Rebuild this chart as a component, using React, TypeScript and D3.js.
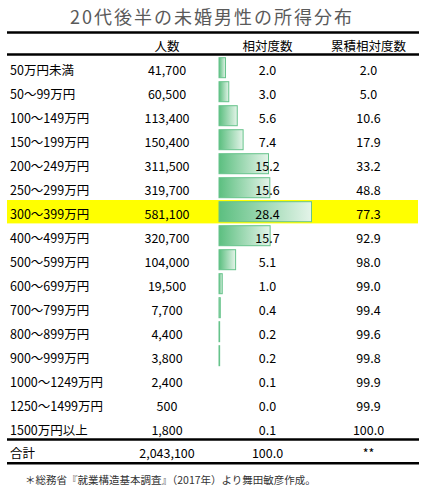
import React from "react";
import * as d3 from "d3";

const title = "20代後半の未婚男性の所得分布";
const headers = ["人数", "相対度数", "累積相対度数"];
const categories = [
  "50万円未満",
  "50～99万円",
  "100～149万円",
  "150～199万円",
  "200～249万円",
  "250～299万円",
  "300～399万円",
  "400～499万円",
  "500～599万円",
  "600～699万円",
  "700～799万円",
  "800～899万円",
  "900～999万円",
  "1000～1249万円",
  "1250～1499万円",
  "1500万円以上",
];
const counts = [41700, 60500, 113400, 150400, 311500, 319700, 581100, 320700, 104000, 19500, 7700, 4400, 3800, 2400, 500, 1800];
const relative = [2.0, 3.0, 5.6, 7.4, 15.2, 15.6, 28.4, 15.7, 5.1, 1.0, 0.4, 0.2, 0.2, 0.1, 0.0, 0.1];
const cumulative = [2.0, 5.0, 10.6, 17.9, 33.2, 48.8, 77.3, 92.9, 98.0, 99.0, 99.4, 99.6, 99.8, 99.9, 99.9, 100.0];
const highlightIndex = 6;
const totalLabel = "合計";
const totalCount = 2043100;
const totalRelative = "100.0";
const totalCumulative = "**";
const footnote = "＊総務省『就業構造基本調査』（2017年）より舞田敏彦作成。";

const FONT = "'Noto Sans CJK JP', 'Noto Sans', sans-serif";

export default function App() {
  const W = 427;
  const H = 494;
  const left = 7;
  const right = 419;
  const colCount = 167;
  const colRel = 267.5;
  const colCum = 368.5;

  const x = d3.scaleLinear().domain([0, d3.max(relative) as number]).range([219, 311.5]);
  const rowY = d3.scaleLinear().domain([0, 1]).range([69.5, 93.5]);
  const fmt = d3.format(",");
  const fmt1 = d3.format(".1f");
  const barH = 20;
  const barOff = -1.8;
  const lastY = rowY(categories.length - 1);
  const totalLineTop = lastY + 10;
  const totalY = lastY + 23.2;
  const totalLineBottom = lastY + 33.8;

  return (
    <svg
      width={W}
      height={H}
      viewBox={`0 0 ${W} ${H}`}
      style={{ position: "absolute", left: 0, top: 0, background: "#fff" }}
      fontFamily={FONT}
    >
      <defs>
        <linearGradient id="barGrad" x1="0" y1="0" x2="1" y2="0">
          <stop offset="0%" stopColor="#5cbf80" />
          <stop offset="100%" stopColor="#e4f4e9" />
        </linearGradient>
      </defs>
      <rect x={0} y={0} width={W} height={H} fill="#fff" />
      <text
        x={70}
        y={15.5}
        fontSize={18}
        fill="#5a5a5a"
        dominantBaseline="central"
        textLength={282}
        lengthAdjust="spacing"
      >
        {title}
      </text>

      <line x1={left} x2={right} y1={32.5} y2={32.5} stroke="#000" strokeWidth={2.4} />
      <line x1={left} x2={right} y1={54.5} y2={54.5} stroke="#000" strokeWidth={2.4} />

      {[colCount, colRel, colCum].map((cx, i) => (
        <text key={i} x={cx} y={45.7} fontSize={12.5} textAnchor="middle" dominantBaseline="central" fill="#000">
          {headers[i]}
        </text>
      ))}

      <rect
        x={left}
        y={rowY(highlightIndex) + barOff - 11.7}
        width={right - left - 1}
        height={23.4}
        fill="#ffff00"
      />

      {relative.map((v, i) =>
        v >= 0.2 ? (
          <rect
            key={"b" + i}
            x={x(0)}
            y={rowY(i) + barOff - barH / 2}
            width={x(v) - x(0)}
            height={barH}
            fill="url(#barGrad)"
            stroke="#66c38b"
            strokeWidth={1}
          />
        ) : null
      )}

      {categories.map((c, i) => (
        <g key={"r" + i} fontSize={12.5} fill="#000" dominantBaseline="central">
          <text x={10} y={rowY(i)}>{c}</text>
          <text x={colCount} y={rowY(i)} textAnchor="middle">{fmt(counts[i])}</text>
          <text x={colRel} y={rowY(i)} textAnchor="middle">{fmt1(relative[i])}</text>
          <text x={colCum} y={rowY(i)} textAnchor="middle">{fmt1(cumulative[i])}</text>
        </g>
      ))}

      <line x1={left} x2={right} y1={totalLineTop} y2={totalLineTop} stroke="#000" strokeWidth={2.4} />
      <g fontSize={12.5} fill="#000" dominantBaseline="central">
        <text x={10} y={totalY}>{totalLabel}</text>
        <text x={colCount} y={totalY} textAnchor="middle">{fmt(totalCount)}</text>
        <text x={colRel} y={totalY} textAnchor="middle">{totalRelative}</text>
        <text x={colCum} y={totalY} textAnchor="middle">{totalCumulative}</text>
      </g>
      <line x1={left} x2={right} y1={totalLineBottom} y2={totalLineBottom} stroke="#000" strokeWidth={2.4} />

      <text x={25} y={479.5} fontSize={10.5} fill="#333" dominantBaseline="central">
        {footnote}
      </text>
    </svg>
  );
}
